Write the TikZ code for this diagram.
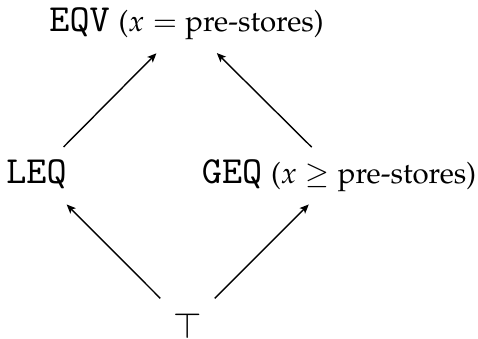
\documentclass[tikz,border=0pt]{standalone}
\usepackage[T1]{fontenc}
\usepackage{mathpazo}
\usetikzlibrary{arrows.meta}
\newcommand\tname[1]{{\fontencoding{OT1}\fontfamily{cmtt}\fontsize{11}{13}\selectfont #1}}
\newcommand\cond[1]{{\fontsize{8.4}{10}\selectfont #1}}
\begin{document}
\begin{tikzpicture}[x=0.28571pt,y=-0.28571pt,
  lab/.style={inner sep=0pt, anchor=base, text height=7.5pt, text depth=2.5pt},
  topnode/.style={inner sep=0pt, anchor=base, text height=7.1pt, text depth=0pt},
  arr/.style={-{Stealth[length=2.6pt,width=2.2pt,inset=0.6pt]}, line width=0.4pt,
              shorten <=11pt, shorten >=12.2pt}]
\useasboundingbox (0,0) rectangle (478,338);
\node[lab] (eqv) at (186.5,31.7) {\tname{EQV} \cond{($x = \mbox{pre-stores}$)}};
\node[lab] (leq) at (36.5,183) {\tname{LEQ}};
\node[lab] (geq) at (339,183) {\tname{GEQ} \cond{($x \geq \mbox{pre-stores}$)}};
\node[topnode] (top) at (187.5,338) {$\top$};
\draw[arr] (top.center) -- (leq.center);
\draw[arr] (top.center) -- (geq.center);
\draw[arr] (leq.center) -- (eqv.center);
\draw[arr] (geq.center) -- (eqv.center);
\end{tikzpicture}
\end{document}
